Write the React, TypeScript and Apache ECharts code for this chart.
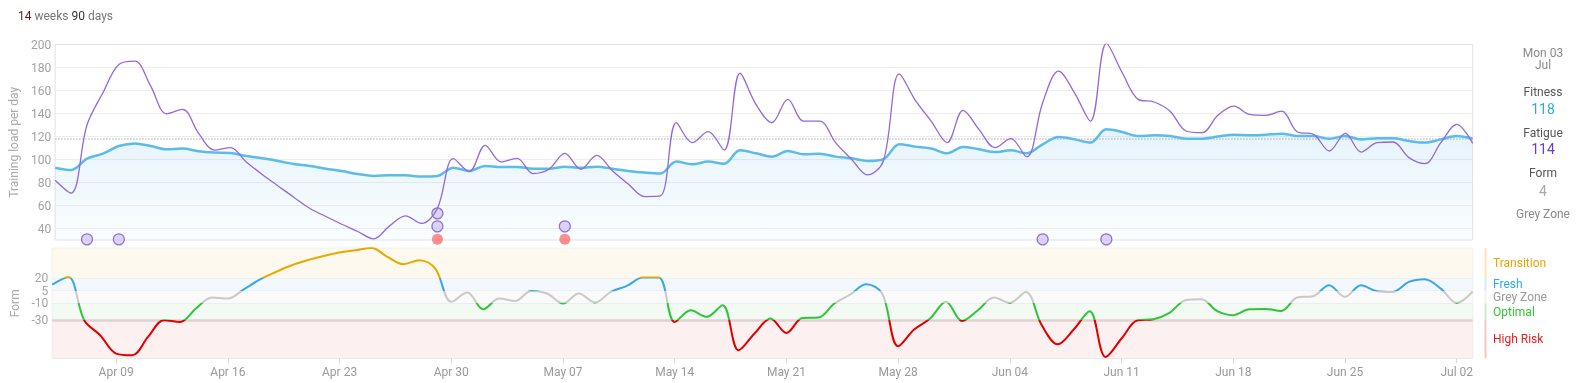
import React, { useEffect, useRef } from 'react';
import * as echarts from 'echarts';

// ---------- data ----------
const MONTHS = ['Jan', 'Feb', 'Mar', 'Apr', 'May', 'Jun', 'Jul', 'Aug', 'Sep', 'Oct', 'Nov', 'Dec'];
const DAY_COUNT = 90; // Apr 05 2023 .. Jul 03 2023
const dates: string[] = [];
for (let i = 0; i < DAY_COUNT; i++) {
  const dt = new Date(Date.UTC(2023, 3, 5 + i));
  dates.push(`${MONTHS[dt.getUTCMonth()]} ${String(dt.getUTCDate()).padStart(2, '0')}`);
}

const weekTickLabels = ['Apr 09', 'Apr 16', 'Apr 23', 'Apr 30', 'May 07', 'May 14', 'May 21', 'May 28', 'Jun 04', 'Jun 11', 'Jun 18', 'Jun 25', 'Jul 02'];
const loadTicks = [40, 60, 80, 100, 120, 140, 160, 180, 200];
const formTicks = [20, 5, -10, -30];

const fitness = [
  92.9, 90.9, 100.8, 105.1, 111.7, 114, 111.7, 108.9, 109.5, 107.1,
  106, 105.6, 103, 101, 98.7, 96, 94.4, 92, 90, 87.4,
  85.7, 86.3, 86.3, 85.2, 85.7, 92.9, 90, 94.4, 93.5, 93.5,
  92, 92, 93.8, 92.9, 93.8, 92, 90, 88.6, 87.8, 98.2,
  95.8, 98.2, 96.4, 108, 105.4, 102.5, 107.4, 104.5, 105.1, 102.5,
  101, 98.7, 100.2, 113.2, 111.2, 109.5, 105.4, 110.9, 108.9, 106.5,
  108, 105.4, 113.2, 119.5, 117.5, 114.7, 126.2, 123.9, 120.4, 121,
  120.4, 118.1, 118.1, 119.9, 121.6, 121, 121.6, 122.5, 120.4, 120.4,
  118.1, 120.4, 117.5, 118.4, 118.4, 116.1, 114.7, 117.5, 120.4, 118,
];

const fatigue = [
  82, 70.7, 130, 158, 182.6, 185.5, 163.8, 139.8, 143.6, 123,
  108.2, 110.3, 97.9, 87, 77, 67, 57.4, 50.4, 43.7, 37.4,
  31, 42.3, 51, 44.4, 57.4, 100.8, 89.5, 112.3, 97.9, 101,
  87.8, 91.5, 105.4, 91.5, 103.6, 90, 78.5, 67.8, 68.3, 132,
  114.7, 124.2, 108.2, 175, 148, 132, 152.3, 133.4, 133.4, 114.7,
  100.2, 86.6, 98.7, 174.5, 151.7, 133.4, 114.7, 142.7, 126.2, 110.3,
  118.1, 102.2, 149.4, 176.8, 158, 133.4, 200.9, 175.4, 152.3, 150,
  142, 124.8, 123.3, 138.4, 146.4, 139.2, 138.4, 142, 123.9, 121.9,
  107.4, 122.8, 106.5, 114.7, 115.2, 101.6, 96.4, 114.7, 130.6, 114,
];

const form = [
  12.2, 21, -30, -47.7, -69.4, -71.4, -49.7, -30, -32, -16.2,
  -3.2, -4.4, 6.5, 18, 27, 35, 41, 46, 50, 52.7,
  55.5, 44.8, 36.2, 41, 31, -8.3, 2.7, -17, -4.4, -7.2,
  4.6, 1.6, -10.3, 1.6, -9, 3.5, 10.5, 20.4, 20.4, -32,
  -18.2, -26, -12.3, -65.5, -45.7, -28, -45, -27.3, -26.8, -10.3,
  0.4, 12.5, 1.5, -60.7, -41, -28, -8.3, -30.8, -18.2, -3.2,
  -9.5, 3.5, -36, -58.4, -41, -19.3, -73.4, -51.6, -30, -28.8,
  -21.3, -6.4, -5.2, -19.3, -24, -17, -16.6, -19, -3.2, -1.6,
  11.4, -2.4, 11.4, 4.3, 3.5, 15.3, 18.4, 7.4, -9.5, 4,
];

// event markers: [day index, stack row]
const noteEvents = [[2, 0], [4, 0], [24, 1], [24, 2], [32, 1], [62, 0], [66, 0]];
const raceEvents = [[24, 0], [32, 0]];

const zoneNames = ['Transition', 'Fresh', 'Grey Zone', 'Optimal', 'High Risk'];
const LOAD_MIN = 30;
const LOAD_MAX = 200;
const FORM_MIN = -75;
const FORM_MAX = 55;
const zoneEdges = [FORM_MAX, 20, 5, -10, -30, FORM_MIN];

// ---------- styles ----------
const zoneLine = ['#e8a800', '#35a9e6', '#c9c9c9', '#2fc43a', '#e00000'];
const zoneFill = ['#fdf9ef', '#f2f8fd', '#fafafa', '#f3faf3', '#fcf0f0'];
const zoneBar = ['#f6e5b3', '#d3ebf8', '#f1f1f1', '#cdeccd', '#f4c6c6'];
const zoneText = ['#e6a700', '#2faae8', '#999999', '#33c43a', '#e62020'];

const FONT = 'Roboto, "Noto Sans", sans-serif';
const LEFT = 52.3;
const RIGHT = 1577 - 1472.7;

export default function App() {
  const ref = useRef<HTMLDivElement>(null);

  useEffect(() => {
    if (!ref.current) return;
    document.body.style.margin = '0';
    const chart = echarts.init(ref.current, undefined, { renderer: 'svg' });

    const last = DAY_COUNT - 1;
    const option: any = {
      animation: false,
      textStyle: { fontFamily: FONT },
      grid: [
        { left: LEFT, right: RIGHT, top: 44.5, height: 195.5, show: true, borderColor: '#e2e2e2', borderWidth: 1, backgroundColor: 'transparent' },
        { left: LEFT, right: RIGHT, top: 248.3, height: 110, show: true, borderColor: '#e2e2e2', borderWidth: 1, backgroundColor: 'transparent' },
      ],
      xAxis: [
        { type: 'category', gridIndex: 0, data: dates, boundaryGap: false, show: false },
        {
          type: 'category', gridIndex: 1, data: dates, boundaryGap: false, position: 'bottom',
          axisLine: { show: false, onZero: false },
          axisTick: { show: true, length: 5, lineStyle: { color: '#d6d6d6' }, interval: (i: number, v: string) => weekTickLabels.includes(v) },
          axisLabel: { color: '#999', fontSize: 12, fontFamily: FONT, margin: 8, interval: (i: number, v: string) => weekTickLabels.includes(v) },
          splitLine: { show: false },
        },
      ],
      yAxis: [
        {
          type: 'value', gridIndex: 0, min: LOAD_MIN, max: LOAD_MAX, interval: 10,
          axisLine: { show: false }, axisTick: { show: false }, splitLine: { show: false },
          axisLabel: { color: '#a3a3a3', fontSize: 12, fontFamily: FONT, margin: 4, formatter: (v: number) => (loadTicks.includes(v) ? String(v) : '') },
          name: 'Training load per day', nameLocation: 'middle', nameGap: 31,
          nameTextStyle: { color: '#aaa', fontSize: 12, fontFamily: FONT },
        },
        {
          type: 'value', gridIndex: 1, min: FORM_MIN, max: FORM_MAX, interval: 5,
          axisLine: { show: false }, axisTick: { show: false }, splitLine: { show: false },
          axisLabel: { color: '#a3a3a3', fontSize: 12, fontFamily: FONT, margin: 4, formatter: (v: number) => (formTicks.includes(v) ? String(v) : '') },
          name: 'Form', nameLocation: 'middle', nameGap: 31,
          nameTextStyle: { color: '#aaa', fontSize: 12, fontFamily: FONT },
        },
        { type: 'value', gridIndex: 0, min: -0.05, max: 15, show: false },
      ],
      visualMap: {
        type: 'piecewise', show: false, seriesIndex: 5, dimension: 1,
        pieces: [
          { min: 20, max: 1000, color: zoneLine[0] },
          { min: 5, max: 20, color: zoneLine[1] },
          { min: -10, max: 5, color: zoneLine[2] },
          { min: -30, max: -10, color: zoneLine[3] },
          { min: -1000, max: -30, color: zoneLine[4] },
        ],
        outOfRange: { color: zoneLine[2] },
      },
      series: [
        // 0: top grid gridlines + current fitness dotted line
        {
          type: 'line', xAxisIndex: 0, yAxisIndex: 0, data: fitness, silent: true, symbol: 'none',
          lineStyle: { opacity: 0 }, z: 1,
          markLine: {
            z: 1, silent: true, symbol: ['none', 'none'], label: { show: false },
            data: [
              ...loadTicks.filter((t) => t < LOAD_MAX).map((t) => ({ yAxis: t, lineStyle: { color: '#eeeeee', width: 1, type: 'solid' } })),
              { yAxis: fitness[last], lineStyle: { color: '#c8c8c8', width: 1.5, type: 'dotted' } },
            ],
          },
        },
        // 1: fitness
        {
          type: 'line', name: 'Fitness', xAxisIndex: 0, yAxisIndex: 0, data: fitness, smooth: 0.35, symbol: 'none',
          lineStyle: { color: '#5cbce8', width: 2.5 },
          areaStyle: {
            origin: 'start',
            color: new echarts.graphic.LinearGradient(0, 0, 0, 1, [
              { offset: 0, color: 'rgba(80,175,230,0.2)' },
              { offset: 1, color: 'rgba(80,175,230,0.04)' },
            ]),
          },
          z: 3,
        },
        // 2: notes (purple circles)
        {
          type: 'scatter', xAxisIndex: 0, yAxisIndex: 2, data: noteEvents, symbolSize: 11, clip: false,
          itemStyle: { color: 'rgba(200,185,240,0.75)', borderColor: '#7a55cc', borderWidth: 1.2 }, z: 4,
        },
        // 3: races (red circles)
        {
          type: 'scatter', xAxisIndex: 0, yAxisIndex: 2, data: raceEvents, symbolSize: 11, clip: false,
          itemStyle: { color: '#f97373' }, z: 4,
        },
        // 4: fatigue
        {
          type: 'line', name: 'Fatigue', xAxisIndex: 0, yAxisIndex: 0, data: fatigue, smooth: 0.35, symbol: 'none',
          lineStyle: { color: '#9368dc', width: 1.3 }, z: 6,
        },
        // 5: form
        {
          type: 'line', name: 'Form', xAxisIndex: 1, yAxisIndex: 1, data: form, smooth: 0.35, symbol: 'none',
          lineStyle: { width: 2 }, z: 6,
        },
        // 6: zone bands
        {
          type: 'line', xAxisIndex: 1, yAxisIndex: 1, data: form, silent: true, symbol: 'none',
          lineStyle: { opacity: 0 }, z: 1,
          markArea: {
            z: 0, silent: true,
            data: zoneNames.map((_, k) => [
              { yAxis: zoneEdges[k], itemStyle: { color: zoneFill[k] } },
              { yAxis: zoneEdges[k + 1] },
            ]),
          },
          markLine: {
            z: 1, silent: true, symbol: ['none', 'none'], label: { show: false },
            data: [
              { yAxis: 20, lineStyle: { color: '#eef1f3', width: 1, type: 'solid' } },
              { yAxis: 5, lineStyle: { color: '#eef0f2', width: 1, type: 'solid' } },
              { yAxis: -10, lineStyle: { color: '#ebefeb', width: 1, type: 'solid' } },
              { yAxis: -30, lineStyle: { color: '#dfd2d2', width: 2.5, type: 'solid' } },
            ],
          },
        },
      ],
    };
    chart.setOption(option);

    const yForm = (v: number) => chart.convertToPixel({ yAxisIndex: 1 }, v) as number;
    const graphics: any[] = [];

    // header
    graphics.push({
      type: 'text', x: 18, y: 16,
      style: {
        text: '{n1|14} {w|weeks} {n2|90} {w|days}',
        verticalAlign: 'middle', align: 'left', fontFamily: FONT, fontSize: 12,
        rich: {
          n1: { fill: '#5a1a14', fontSize: 12, fontFamily: FONT },
          n2: { fill: '#333', fontSize: 12, fontFamily: FONT },
          w: { fill: '#777', fontSize: 12, fontFamily: FONT },
        },
      },
    });

    // right info panel
    const cx = 1543;
    const panel: [string, number, string, number][] = [
      ['Mon 03', 52.7, '#8a8a8a', 12],
      ['Jul', 64.5, '#8a8a8a', 12],
      ['Fitness', 91.7, '#555', 12],
      [String(Math.round(fitness[last])), 108.5, '#2ea8e2', 14],
      ['Fatigue', 132.7, '#555', 12],
      [String(Math.round(fatigue[last])), 149, '#6a3bd0', 14],
      ['Form', 173.3, '#555', 12],
      [String(Math.round(form[last])), 190.7, '#a8a8a8', 14],
      ['Grey Zone', 214.3, '#8a8a8a', 12],
    ];
    panel.forEach(([t, y, c, fs]) => {
      graphics.push({
        type: 'text', x: cx, y,
        style: { text: t, fill: c, fontSize: fs, fontFamily: FONT, align: 'center', verticalAlign: 'middle' },
      });
    });

    // zone legend bar + labels
    zoneNames.forEach((name, k) => {
      const y1 = yForm(zoneEdges[k]);
      const y2 = yForm(zoneEdges[k + 1]);
      graphics.push({
        type: 'rect', shape: { x: 1484.5, y: y1, width: 2, height: y2 - y1 },
        style: { fill: zoneBar[k] }, silent: true,
      });
      graphics.push({
        type: 'text', x: 1493, y: (y1 + y2) / 2,
        style: { text: name, fill: zoneText[k], fontSize: 12, fontFamily: FONT, align: 'left', verticalAlign: 'middle' },
      });
    });

    chart.setOption({ graphic: graphics });

    return () => chart.dispose();
  }, []);

  return <div ref={ref} style={{ position: 'fixed', left: 0, top: 0, width: 1577, height: 383 }} />;
}
